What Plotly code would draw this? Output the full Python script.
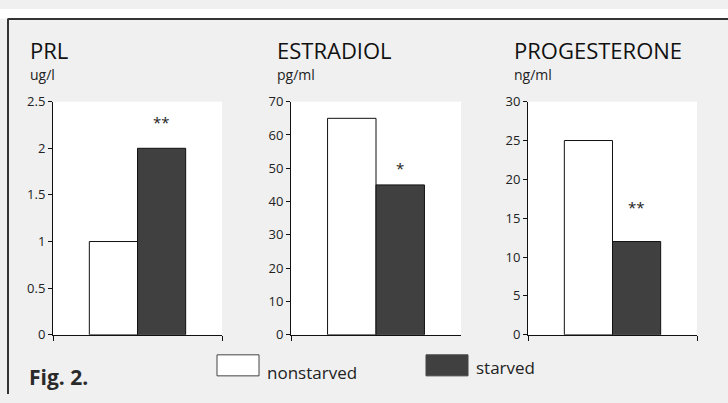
import plotly.graph_objects as go

# Hormone levels, nonstarved vs starved
hormones = ["PRL", "ESTRADIOL", "PROGESTERONE"]
units = ["ug/l", "pg/ml", "ng/ml"]
nonstarved = [1, 65, 25]
starved = [2, 45, 12]
significance = ["**", "*", "**"]
sig_y = [2.28, 50, 16.5]
y_max = [2.5, 70, 30]
y_dtick = [0.5, 10, 5]
groups = ["group"]

W, H = 728, 403
BG = "#f0f0f0"
DARK = "#404040"
FONT = "Open Sans"


def px_x(v):
    return v / W


def px_y(v):
    return 1 - v / H


# panel pixel extents: (left, right)
panels = [(53, 222), (291, 461), (528, 697)]
top, bottom = 97, 341
title_x = [28, 275, 512]

fig = go.Figure()
annotations = []
shapes = []

for i, (h, u) in enumerate(zip(hormones, units)):
    xa = "x" if i == 0 else f"x{i+1}"
    ya = "y" if i == 0 else f"y{i+1}"
    fig.add_trace(go.Bar(x=groups, y=[nonstarved[i]], name="nonstarved",
                         marker=dict(color="white", line=dict(color="#111", width=1)),
                         xaxis=xa, yaxis=ya, showlegend=False))
    fig.add_trace(go.Bar(x=groups, y=[starved[i]], name="starved",
                         marker=dict(color=DARK, line=dict(color="#111", width=1)),
                         xaxis=xa, yaxis=ya, showlegend=False))
    left, right = panels[i]
    xkey = "xaxis" if i == 0 else f"xaxis{i+1}"
    ykey = "yaxis" if i == 0 else f"yaxis{i+1}"
    fig.layout[xkey] = dict(domain=[px_x(left), px_x(right)], anchor=ya,
                            showticklabels=False, showline=True, linecolor="#111",
                            linewidth=1, ticks="outside", tickson="boundaries",
                            ticklen=5, tickcolor="#111", showgrid=False,
                            zeroline=False, fixedrange=True)
    fig.layout[ykey] = dict(domain=[px_y(bottom), px_y(top)], anchor=xa,
                            range=[0, y_max[i]], dtick=y_dtick[i], tick0=0,
                            showline=True, linecolor="#111", linewidth=1,
                            ticks="outside", ticklen=4, tickcolor="#111",
                            showgrid=False, zeroline=False,
                            tickfont=dict(family=FONT, size=13, color="#222"))
    bar_px = (right - left) * (1 - 0.43) / 2
    annotations.append(dict(x=groups[0], y=sig_y[i], xref=xa, yref=ya,
                            text=significance[i], showarrow=False,
                            xshift=bar_px / 2,
                            font=dict(family=FONT, size=15, color="#222")))
    annotations.append(dict(x=px_x(title_x[i]), y=px_y(43), xref="paper", yref="paper",
                            text=h, showarrow=False, xanchor="left", yanchor="middle",
                            font=dict(family=FONT, size=22, color="#111")))
    annotations.append(dict(x=px_x(title_x[i]), y=px_y(69), xref="paper", yref="paper",
                            text=u, showarrow=False, xanchor="left", yanchor="middle",
                            font=dict(family=FONT, size=14, color="#222")))

# legend drawn as boxes with labels
legend_items = [("nonstarved", "white", 217, 380), ("starved", DARK, 426, 375)]
for name, color, x0, ty in legend_items:
    shapes.append(dict(type="rect", xref="paper", yref="paper",
                       x0=px_x(x0), x1=px_x(x0 + 42), y0=px_y(384), y1=px_y(362),
                       fillcolor=color, line=dict(color="#444", width=1)))
    annotations.append(dict(x=px_x(x0 + 48), y=px_y(ty), xref="paper", yref="paper",
                            text=name, showarrow=False, xanchor="left", yanchor="middle",
                            font=dict(family=FONT, size=17, color="#222")))

annotations.append(dict(x=px_x(27), y=px_y(385), xref="paper", yref="paper",
                        text="<b>Fig. 2.</b>", showarrow=False, xanchor="left",
                        yanchor="middle",
                        font=dict(family=FONT, size=21, color="#2a2a2a")))

# frame lines (top and left)
shapes.append(dict(type="line", xref="paper", yref="paper",
                   x0=px_x(8), x1=1, y0=px_y(10.5), y1=px_y(10.5),
                   line=dict(color="#333", width=2)))
shapes.append(dict(type="line", xref="paper", yref="paper",
                   x0=px_x(8), x1=px_x(8), y0=px_y(10), y1=0,
                   line=dict(color="#333", width=2)))

# white strip above the page frame
shapes.append(dict(type="rect", xref="paper", yref="paper", x0=0, x1=1,
                   y0=px_y(10), y1=1, fillcolor="white", line=dict(width=0),
                   layer="below"))

fig.update_layout(width=W, height=H, margin=dict(l=0, r=0, t=0, b=0),
                  paper_bgcolor=BG, plot_bgcolor="white",
                  barmode="group", bargap=0.43, bargroupgap=0,
                  annotations=annotations, shapes=shapes, showlegend=False)

fig.write_html("out.html", config={"displayModeBar": False})
